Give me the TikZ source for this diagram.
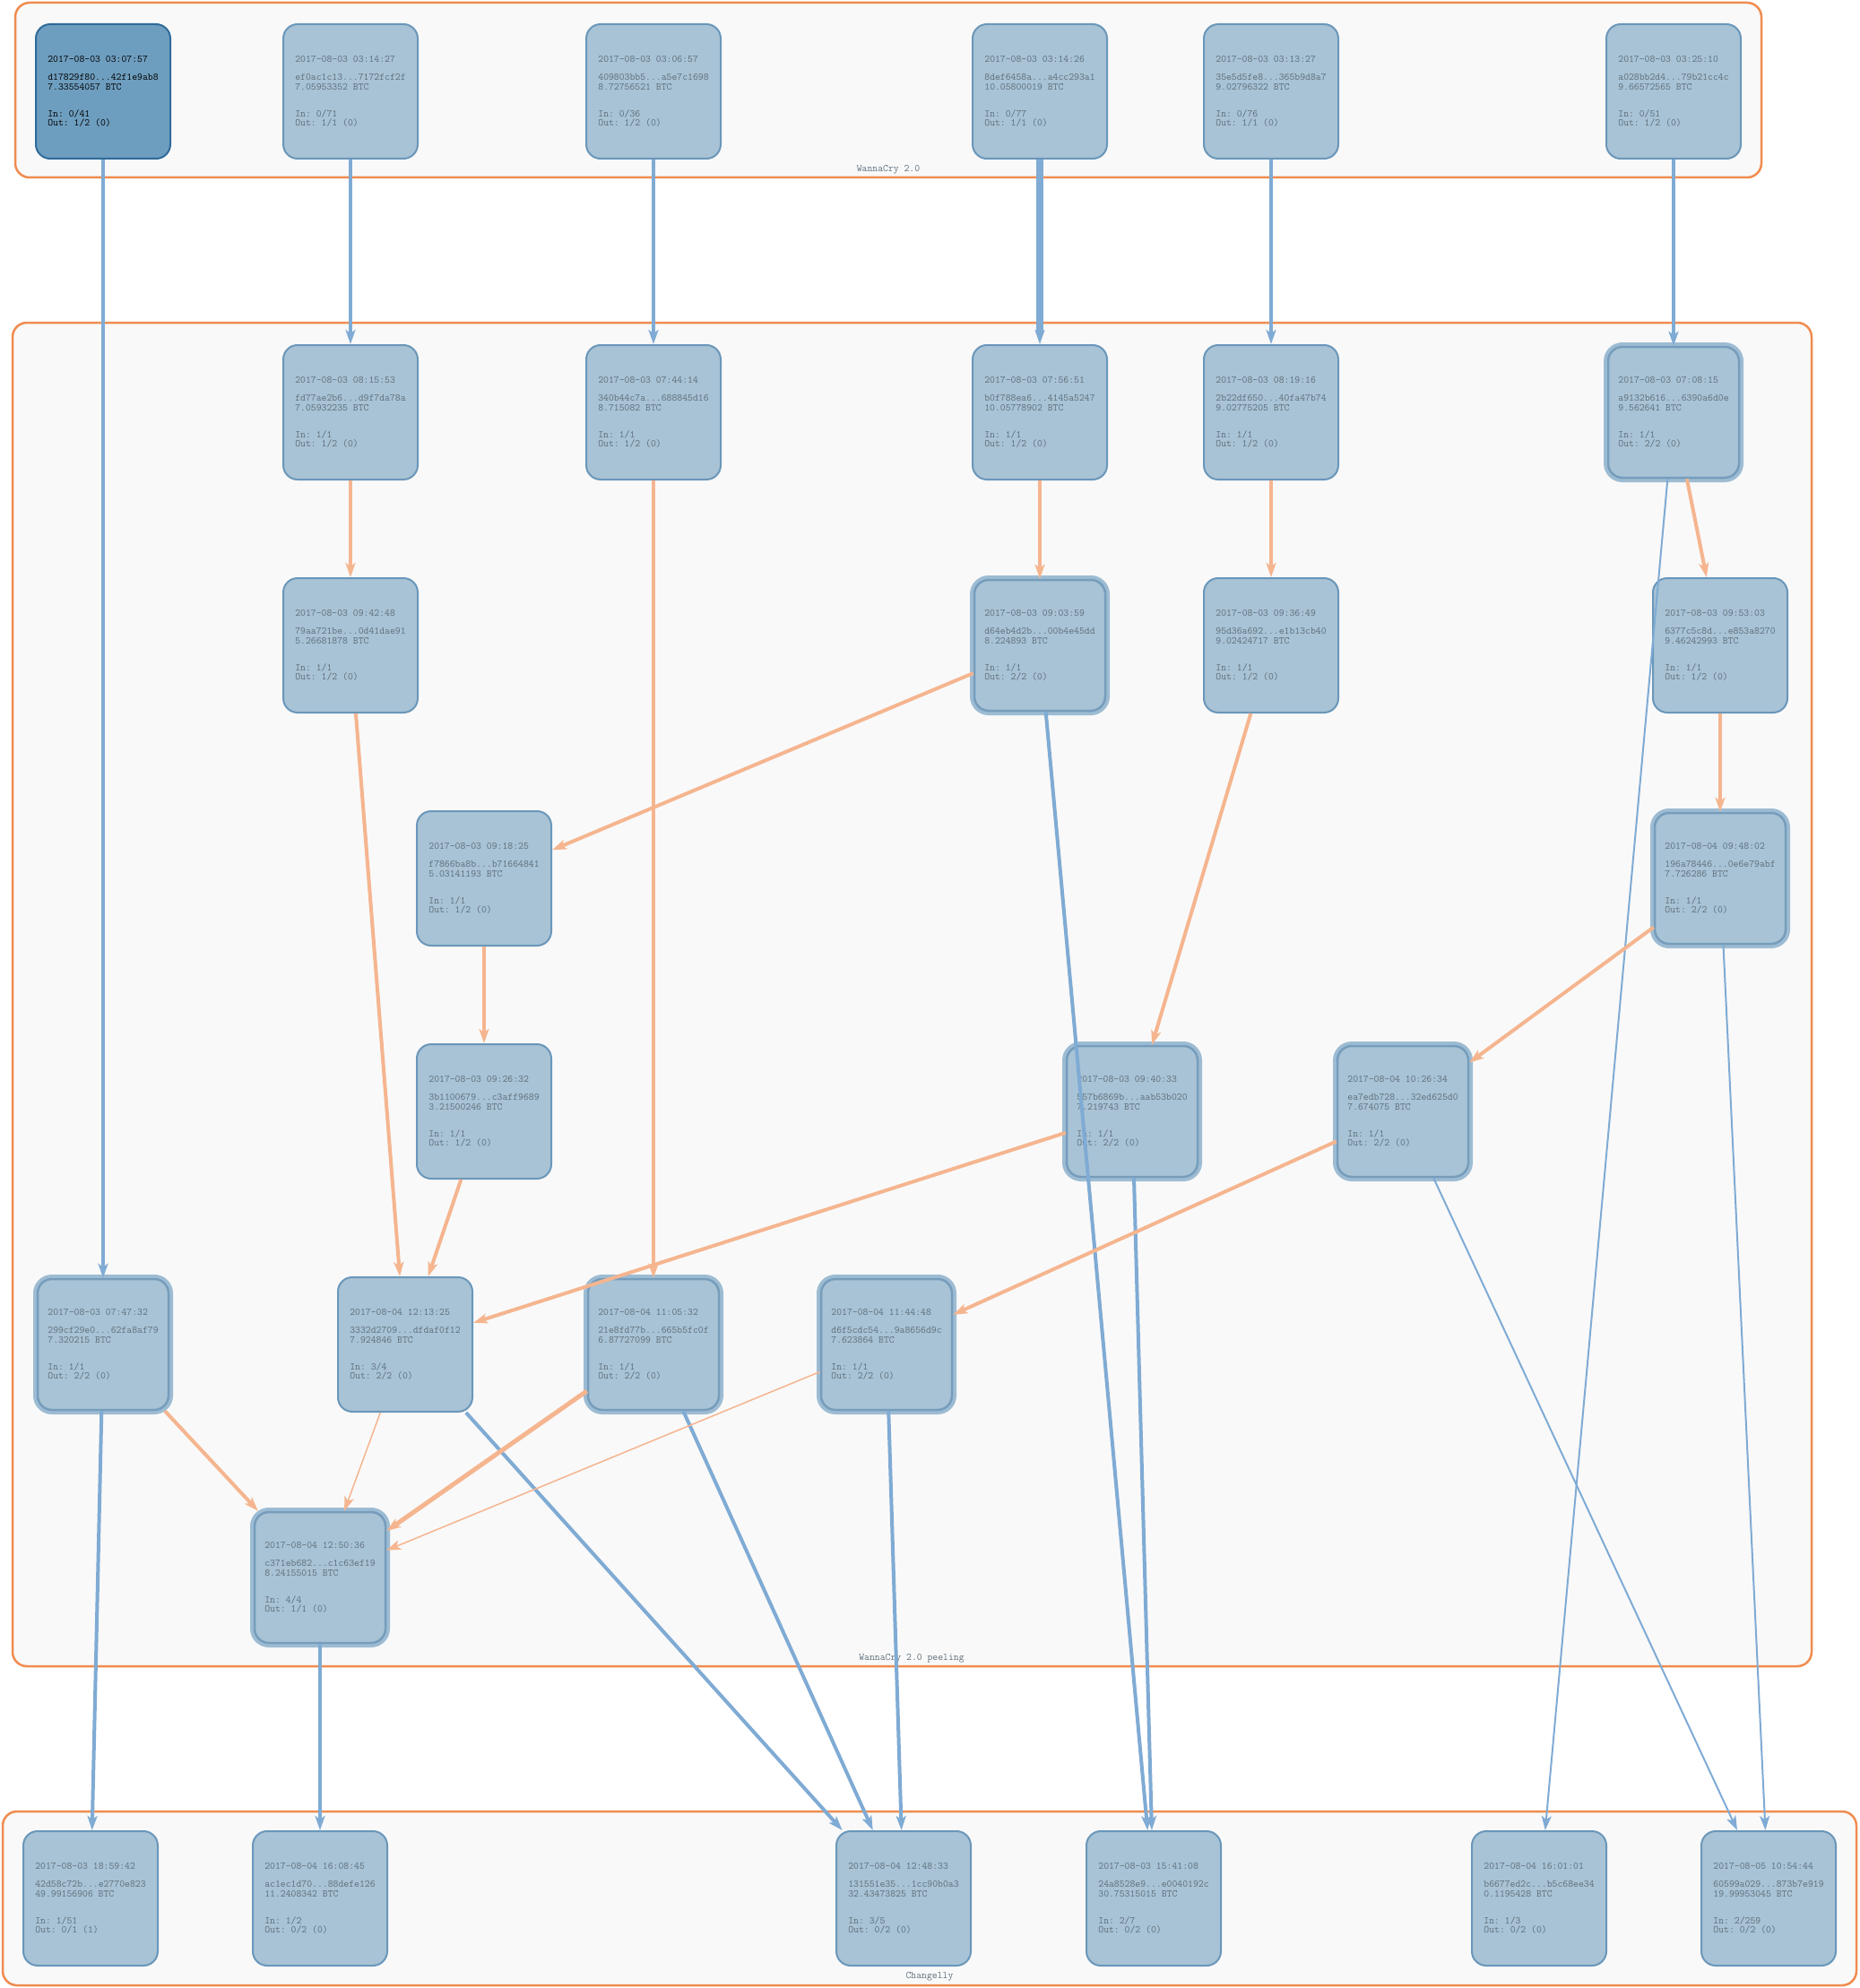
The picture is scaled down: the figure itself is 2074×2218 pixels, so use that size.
\documentclass[tikz,border=0pt]{standalone}
\usepackage{fontspec}
\usetikzlibrary{arrows.meta}
\frenchspacing
\definecolor{clfill}{HTML}{F9F9F9}
\definecolor{clline}{HTML}{F08C50}
\definecolor{txfill}{HTML}{A8C3D5}
\definecolor{txline}{HTML}{6A97BA}
\definecolor{txtext}{HTML}{5E6E7B}
\definecolor{srcfill}{HTML}{6E9EBF}
\definecolor{srcline}{HTML}{2F6B9A}
\definecolor{ringlight}{HTML}{9DBCD3}
\definecolor{ringdark}{HTML}{769DBC}
\definecolor{flowblue}{HTML}{7FABD4}
\definecolor{floworange}{HTML}{F5B58F}
\begin{document}
\begin{tikzpicture}
      [x=1pt,y=-1pt,
      cluster/.style={draw=clline,fill=clfill,line width=2.5pt,rounded corners=16pt},
      clusterlabel/.style={text=txtext,font=\ttfamily\frenchspacing\fontsize{11.4}{12}\selectfont},
      tx/.style={draw=txline,fill=txfill,line width=2pt,rounded corners=16pt,
        minimum width=150pt,minimum height=150pt,inner sep=0pt,align=left,
        text=txtext,font=\ttfamily\frenchspacing\fontsize{11.4}{10.3}\selectfont},
      source/.style={tx,draw=srcline,fill=srcfill,text=black},
      split/.style={tx,draw=ringdark,line width=2.5pt,minimum width=146pt,minimum height=146pt,
        preaction={draw=ringlight,line width=10pt,rounded corners=16pt}},
      flow/.style={-{Stealth[length=16pt,width=11pt,inset=4pt]},line width=4pt},
      blue/.style={flow,draw=flowblue,fill=flowblue},
      bluethin/.style={blue,line width=2pt},
      bluewide/.style={blue,line width=7.5pt},
      peel/.style={flow,draw=floworange,fill=floworange},
      peelthin/.style={peel,line width=1.5pt}]
      \useasboundingbox (0,0) rectangle (2074,2218);
      \draw[cluster] (17,3) rectangle (1965,198);
      \draw[cluster] (14,360) rectangle (2021,1859);
      \draw[cluster] (3,2021) rectangle (2071,2215);
      \node[clusterlabel] (lwannacry) at (991,189) {WannaCry 2.0};
      \node[clusterlabel] (lpeeling) at (1017,1850) {WannaCry 2.0 peeling};
      \node[clusterlabel] (lchangelly) at (1037,2205) {Changelly};

      \node[source] (hd178) at (115,102) {2017-08-03 03:07:57\\[10pt]d17829f80...42f1e9ab8\\7.33554057 BTC\\[20pt]In: 0/41\\Out: 1/2 (0)};
      \node[tx] (hef0a) at (391,102) {2017-08-03 03:14:27\\[10pt]ef0ac1c13...7172fcf2f\\7.05953352 BTC\\[20pt]In: 0/71\\Out: 1/1 (0)};
      \node[tx] (h4098) at (729,102) {2017-08-03 03:06:57\\[10pt]409803bb5...a5e7c1698\\8.72756521 BTC\\[20pt]In: 0/36\\Out: 1/2 (0)};
      \node[tx] (h8def) at (1160,102) {2017-08-03 03:14:26\\[10pt]8def6458a...a4cc293a1\\10.05800019 BTC\\[20pt]In: 0/77\\Out: 1/1 (0)};
      \node[tx] (h35e5) at (1418,102) {2017-08-03 03:13:27\\[10pt]35e5d5fe8...365b9d8a7\\9.02796322 BTC\\[20pt]In: 0/76\\Out: 1/1 (0)};
      \node[tx] (ha028) at (1867,102) {2017-08-03 03:25:10\\[10pt]a028bb2d4...79b21cc4c\\9.66572565 BTC\\[20pt]In: 0/51\\Out: 1/2 (0)};

      \node[tx] (hfd77) at (391,460) {2017-08-03 08:15:53\\[10pt]fd77ae2b6...d9f7da78a\\7.05932235 BTC\\[20pt]In: 1/1\\Out: 1/2 (0)};
      \node[tx] (h340b) at (729,460) {2017-08-03 07:44:14\\[10pt]340b44c7a...688845d16\\8.715082 BTC\\[20pt]In: 1/1\\Out: 1/2 (0)};
      \node[tx] (hb0f7) at (1160,460) {2017-08-03 07:56:51\\[10pt]b0f788ea6...4145a5247\\10.05778902 BTC\\[20pt]In: 1/1\\Out: 1/2 (0)};
      \node[tx] (h2b22) at (1418,460) {2017-08-03 08:19:16\\[10pt]2b22df650...40fa47b74\\9.02775205 BTC\\[20pt]In: 1/1\\Out: 1/2 (0)};
      \node[split] (ha913) at (1867,460) {2017-08-03 07:08:15\\[10pt]a9132b616...6390a6d0e\\9.562641 BTC\\[20pt]In: 1/1\\Out: 2/2 (0)};

      \node[tx] (h79aa) at (391,720) {2017-08-03 09:42:48\\[10pt]79aa721be...0d41dae91\\5.26681878 BTC\\[20pt]In: 1/1\\Out: 1/2 (0)};
      \node[split] (hd64e) at (1160,720) {2017-08-03 09:03:59\\[10pt]d64eb4d2b...00b4e45dd\\8.224893 BTC\\[20pt]In: 1/1\\Out: 2/2 (0)};
      \node[tx] (h95d3) at (1418,720) {2017-08-03 09:36:49\\[10pt]95d36a692...e1b13cb40\\9.02424717 BTC\\[20pt]In: 1/1\\Out: 1/2 (0)};
      \node[tx] (h6377) at (1919,720) {2017-08-03 09:53:03\\[10pt]6377c5c8d...e853a8270\\9.46242993 BTC\\[20pt]In: 1/1\\Out: 1/2 (0)};

      \node[tx] (hf786) at (540,980) {2017-08-03 09:18:25\\[10pt]f7866ba8b...b71664841\\5.03141193 BTC\\[20pt]In: 1/1\\Out: 1/2 (0)};
      \node[split] (h196a) at (1919,980) {2017-08-04 09:48:02\\[10pt]196a78446...0e6e79abf\\7.726286 BTC\\[20pt]In: 1/1\\Out: 2/2 (0)};

      \node[tx] (h3b11) at (540,1240) {2017-08-03 09:26:32\\[10pt]3b1100679...c3aff9689\\3.21500246 BTC\\[20pt]In: 1/1\\Out: 1/2 (0)};
      \node[split] (h557b) at (1263,1240) {2017-08-03 09:40:33\\[10pt]557b6869b...aab53b020\\7.219743 BTC\\[20pt]In: 1/1\\Out: 2/2 (0)};
      \node[split] (hea7e) at (1565,1240) {2017-08-04 10:26:34\\[10pt]ea7edb728...32ed625d0\\7.674075 BTC\\[20pt]In: 1/1\\Out: 2/2 (0)};

      \node[split] (h299c) at (115,1500) {2017-08-03 07:47:32\\[10pt]299cf29e0...62fa8af79\\7.320215 BTC\\[20pt]In: 1/1\\Out: 2/2 (0)};
      \node[tx] (h3332) at (452,1500) {2017-08-04 12:13:25\\[10pt]3332d2709...dfdaf0f12\\7.924846 BTC\\[20pt]In: 3/4\\Out: 2/2 (0)};
      \node[split] (h21e8) at (729,1500) {2017-08-04 11:05:32\\[10pt]21e8fd77b...665b5fc0f\\6.87727099 BTC\\[20pt]In: 1/1\\Out: 2/2 (0)};
      \node[split] (hd6f5) at (989,1500) {2017-08-04 11:44:48\\[10pt]d6f5cdc54...9a8656d9c\\7.623864 BTC\\[20pt]In: 1/1\\Out: 2/2 (0)};

      \node[split] (hc371) at (357,1760) {2017-08-04 12:50:36\\[10pt]c371eb682...c1c63ef19\\8.24155015 BTC\\[20pt]In: 4/4\\Out: 1/1 (0)};

      \node[tx] (h42d5) at (101,2118) {2017-08-03 18:59:42\\[10pt]42d58c72b...e2770e823\\49.99156906 BTC\\[20pt]In: 1/51\\Out: 0/1 (1)};
      \node[tx] (hac1e) at (357,2118) {2017-08-04 16:08:45\\[10pt]ac1ec1d70...88defe126\\11.2408342 BTC\\[20pt]In: 1/2\\Out: 0/2 (0)};
      \node[tx] (h1315) at (1008,2118) {2017-08-04 12:48:33\\[10pt]131551e35...1cc90b0a3\\32.43473825 BTC\\[20pt]In: 3/5\\Out: 0/2 (0)};
      \node[tx] (h24a8) at (1287,2118) {2017-08-03 15:41:08\\[10pt]24a8528e9...e0040192c\\30.75315015 BTC\\[20pt]In: 2/7\\Out: 0/2 (0)};
      \node[tx] (hb667) at (1717,2118) {2017-08-04 16:01:01\\[10pt]b6677ed2c...b5c68ee34\\0.1195428 BTC\\[20pt]In: 1/3\\Out: 0/2 (0)};
      \node[tx] (h6059) at (1973,2118) {2017-08-05 10:54:44\\[10pt]60599a029...873b7e919\\19.99953045 BTC\\[20pt]In: 2/259\\Out: 0/2 (0)};

      \draw[blue] (hd178) -- (h299c);
      \draw[blue] (hef0a) -- (hfd77);
      \draw[blue] (h4098) -- (h340b);
      \draw[bluewide] (h8def) -- (hb0f7);
      \draw[blue] (h35e5) -- (h2b22);
      \draw[blue] (ha028) -- (ha913);
      \draw[peel] (hfd77) -- (h79aa);
      \draw[peel] (hb0f7) -- (hd64e);
      \draw[peel] (h2b22) -- (h95d3);
      \draw[peel] (ha913) -- (h6377);
      \draw[bluethin] (ha913) -- (hb667);
      \draw[peel] (h6377) -- (h196a);
      \draw[peel] (h196a) -- (hea7e);
      \draw[bluethin] (h196a) -- (h6059);
      \draw[peel] (hd64e) -- (hf786);
      \draw[blue] (hd64e) -- (h24a8);
      \draw[peel] (h95d3) -- (h557b);
      \draw[peel] (hf786) -- (h3b11);
      \draw[peel] (h79aa) -- (h3332);
      \draw[peel] (h3b11) -- (h3332);
      \draw[peel] (h340b) -- (h21e8);
      \draw[peel] (h557b) -- (h3332);
      \draw[blue] (h557b) -- (h24a8);
      \draw[peel] (hea7e) -- (hd6f5);
      \draw[bluethin] (hea7e) -- (h6059);
      \draw[peel] (h299c) -- (hc371);
      \draw[blue] (h299c) -- (h42d5);
      \draw[peelthin] (h3332) -- (hc371);
      \draw[blue] (h3332) -- (h1315);
      \draw[peel,line width=5pt] (h21e8) -- (hc371);
      \draw[blue] (h21e8) -- (h1315);
      \draw[peelthin] (hd6f5) -- (hc371);
      \draw[blue] (hd6f5) -- (h1315);
      \draw[blue] (hc371) -- (hac1e);
\end{tikzpicture}
\end{document}
